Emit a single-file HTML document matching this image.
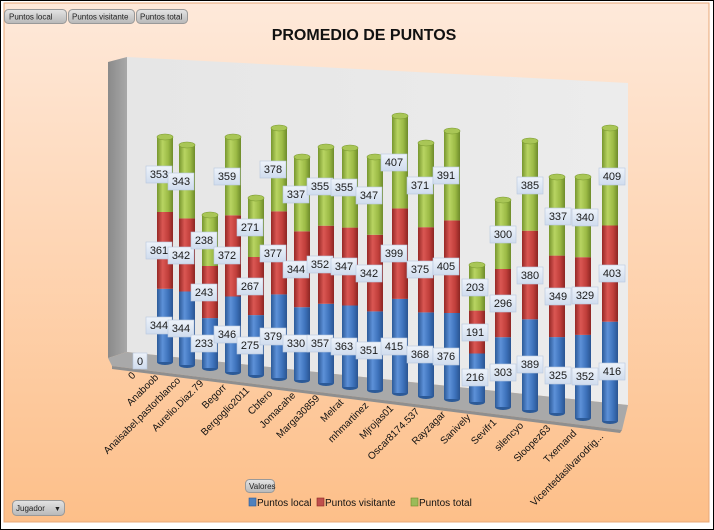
<!DOCTYPE html>
<html><head><meta charset="utf-8"><style>
body{margin:0;width:714px;height:530px;overflow:hidden;background:#fff;}
svg{display:block;font-family:"Liberation Sans",sans-serif;}
</style></head><body>
<svg width="714" height="530" viewBox="0 0 714 530" xmlns="http://www.w3.org/2000/svg">
<defs>
<linearGradient id="bg" x1="0" y1="0" x2="0" y2="1"><stop offset="0" stop-color="#fee9da"/><stop offset="1" stop-color="#fdbf89"/></linearGradient>
<linearGradient id="wall" x1="0" y1="0" x2="1" y2="0"><stop offset="0" stop-color="#e6e6e6"/><stop offset="1" stop-color="#ececec"/></linearGradient>
<linearGradient id="side" x1="0" y1="0" x2="1" y2="0"><stop offset="0" stop-color="#8a8a8a"/><stop offset="1" stop-color="#a8a8a8"/></linearGradient>
<linearGradient id="gb" x1="0" y1="0" x2="1" y2="0"><stop offset="0" stop-color="#2c5a98"/><stop offset=".35" stop-color="#5d91d8"/><stop offset=".7" stop-color="#3d72bb"/><stop offset="1" stop-color="#2a5491"/></linearGradient>
<linearGradient id="gr" x1="0" y1="0" x2="1" y2="0"><stop offset="0" stop-color="#962825"/><stop offset=".35" stop-color="#da5753"/><stop offset=".7" stop-color="#c13f3b"/><stop offset="1" stop-color="#8c2522"/></linearGradient>
<linearGradient id="gg" x1="0" y1="0" x2="1" y2="0"><stop offset="0" stop-color="#77962e"/><stop offset=".35" stop-color="#b8d462"/><stop offset=".7" stop-color="#9cbb46"/><stop offset="1" stop-color="#6e8b2a"/></linearGradient>
<linearGradient id="btn" x1="0" y1="0" x2="0" y2="1"><stop offset="0" stop-color="#e4e4e4"/><stop offset="1" stop-color="#b8b8b8"/></linearGradient>
<linearGradient id="lbl" x1="0" y1="0" x2="0" y2="1"><stop offset="0" stop-color="#eef3fa"/><stop offset="1" stop-color="#cfdcee"/></linearGradient>
</defs>
<rect x="0.5" y="0.5" width="713" height="529" fill="#fff" stroke="#000"/>
<rect x="4" y="3" width="705" height="519" fill="url(#bg)" stroke="#e8a878"/>
<g font-size="8" fill="#222">
<rect x="4.5" y="9.5" width="62" height="14" rx="4" fill="url(#btn)" stroke="#999"/><text x="9" y="19.5">Puntos local</text>
<rect x="68.5" y="9.5" width="66" height="14" rx="4" fill="url(#btn)" stroke="#999"/><text x="72" y="19.5">Puntos visitante</text>
<rect x="136.5" y="9.5" width="51" height="14" rx="4" fill="url(#btn)" stroke="#999"/><text x="140" y="19.5">Puntos total</text>
<rect x="245.5" y="479.5" width="29" height="13" rx="4" fill="url(#btn)" stroke="#999"/><text x="249" y="489">Valores</text>
<rect x="12.5" y="500.5" width="52" height="15" rx="4" fill="url(#btn)" stroke="#999"/><text x="16" y="511">Jugador</text><text x="54" y="511" font-size="7">▼</text>
</g>
<text x="364" y="40" font-size="16" font-weight="bold" text-anchor="middle" fill="#111">PROMEDIO DE PUNTOS</text>
<polygon points="108,62 127,57 127,352 108,358" fill="url(#side)"/>
<polygon points="127,57 628,83 628,405 127,352" fill="url(#wall)"/>
<polygon points="108,358 127,352 628,405 622,430 112,366" fill="#a9a9a9"/>
<polygon points="112,366 622,430 620,433 112,369" fill="#8f8f8f"/>
<g id="bars">
<g transform="translate(165,0)"><ellipse cx="0" cy="362" rx="8" ry="3" fill="#2c5a98"/><rect x="-8" y="288.8" width="16" height="73.2" fill="url(#gb)"/><rect x="-8" y="212" width="16" height="76.8" fill="url(#gr)"/><rect x="-8" y="137" width="16" height="75" fill="url(#gg)"/><ellipse cx="0" cy="137" rx="8" ry="3" fill="#a9c656" stroke="#7a9a30" stroke-width=".6"/></g>
<g transform="translate(187,0)"><ellipse cx="0" cy="365" rx="8" ry="3" fill="#2c5a98"/><rect x="-8" y="291.5" width="16" height="73.5" fill="url(#gb)"/><rect x="-8" y="218.4" width="16" height="73.1" fill="url(#gr)"/><rect x="-8" y="145" width="16" height="73.4" fill="url(#gg)"/><ellipse cx="0" cy="145" rx="8" ry="3" fill="#a9c656" stroke="#7a9a30" stroke-width=".6"/></g>
<g transform="translate(210,0)"><ellipse cx="0" cy="368" rx="8" ry="3" fill="#2c5a98"/><rect x="-8" y="318.1" width="16" height="49.9" fill="url(#gb)"/><rect x="-8" y="266" width="16" height="52.1" fill="url(#gr)"/><rect x="-8" y="215" width="16" height="51" fill="url(#gg)"/><ellipse cx="0" cy="215" rx="8" ry="3" fill="#a9c656" stroke="#7a9a30" stroke-width=".6"/></g>
<g transform="translate(233,0)"><ellipse cx="0" cy="372" rx="8" ry="3" fill="#2c5a98"/><rect x="-8" y="296.5" width="16" height="75.5" fill="url(#gb)"/><rect x="-8" y="215.3" width="16" height="81.2" fill="url(#gr)"/><rect x="-8" y="137" width="16" height="78.3" fill="url(#gg)"/><ellipse cx="0" cy="137" rx="8" ry="3" fill="#a9c656" stroke="#7a9a30" stroke-width=".6"/></g>
<g transform="translate(256,0)"><ellipse cx="0" cy="375" rx="8" ry="3" fill="#2c5a98"/><rect x="-8" y="315.1" width="16" height="59.9" fill="url(#gb)"/><rect x="-8" y="257" width="16" height="58.1" fill="url(#gr)"/><rect x="-8" y="198" width="16" height="59" fill="url(#gg)"/><ellipse cx="0" cy="198" rx="8" ry="3" fill="#a9c656" stroke="#7a9a30" stroke-width=".6"/></g>
<g transform="translate(279,0)"><ellipse cx="0" cy="378" rx="8" ry="3" fill="#2c5a98"/><rect x="-8" y="294.4" width="16" height="83.6" fill="url(#gb)"/><rect x="-8" y="211.3" width="16" height="83.1" fill="url(#gr)"/><rect x="-8" y="128" width="16" height="83.3" fill="url(#gg)"/><ellipse cx="0" cy="128" rx="8" ry="3" fill="#a9c656" stroke="#7a9a30" stroke-width=".6"/></g>
<g transform="translate(302,0)"><ellipse cx="0" cy="380" rx="8" ry="3" fill="#2c5a98"/><rect x="-8" y="307.2" width="16" height="72.8" fill="url(#gb)"/><rect x="-8" y="231.3" width="16" height="75.9" fill="url(#gr)"/><rect x="-8" y="157" width="16" height="74.3" fill="url(#gg)"/><ellipse cx="0" cy="157" rx="8" ry="3" fill="#a9c656" stroke="#7a9a30" stroke-width=".6"/></g>
<g transform="translate(326,0)"><ellipse cx="0" cy="383" rx="8" ry="3" fill="#2c5a98"/><rect x="-8" y="303.8" width="16" height="79.2" fill="url(#gb)"/><rect x="-8" y="225.7" width="16" height="78.1" fill="url(#gr)"/><rect x="-8" y="147" width="16" height="78.7" fill="url(#gg)"/><ellipse cx="0" cy="147" rx="8" ry="3" fill="#a9c656" stroke="#7a9a30" stroke-width=".6"/></g>
<g transform="translate(350,0)"><ellipse cx="0" cy="387" rx="8" ry="3" fill="#2c5a98"/><rect x="-8" y="305.5" width="16" height="81.5" fill="url(#gb)"/><rect x="-8" y="227.6" width="16" height="77.9" fill="url(#gr)"/><rect x="-8" y="148" width="16" height="79.6" fill="url(#gg)"/><ellipse cx="0" cy="148" rx="8" ry="3" fill="#a9c656" stroke="#7a9a30" stroke-width=".6"/></g>
<g transform="translate(375,0)"><ellipse cx="0" cy="390" rx="8" ry="3" fill="#2c5a98"/><rect x="-8" y="311.4" width="16" height="78.6" fill="url(#gb)"/><rect x="-8" y="234.8" width="16" height="76.6" fill="url(#gr)"/><rect x="-8" y="157" width="16" height="77.8" fill="url(#gg)"/><ellipse cx="0" cy="157" rx="8" ry="3" fill="#a9c656" stroke="#7a9a30" stroke-width=".6"/></g>
<g transform="translate(400,0)"><ellipse cx="0" cy="393" rx="8" ry="3" fill="#2c5a98"/><rect x="-8" y="298.9" width="16" height="94.1" fill="url(#gb)"/><rect x="-8" y="208.4" width="16" height="90.5" fill="url(#gr)"/><rect x="-8" y="116" width="16" height="92.4" fill="url(#gg)"/><ellipse cx="0" cy="116" rx="8" ry="3" fill="#a9c656" stroke="#7a9a30" stroke-width=".6"/></g>
<g transform="translate(426,0)"><ellipse cx="0" cy="396" rx="8" ry="3" fill="#2c5a98"/><rect x="-8" y="312.4" width="16" height="83.6" fill="url(#gb)"/><rect x="-8" y="227.2" width="16" height="85.2" fill="url(#gr)"/><rect x="-8" y="143" width="16" height="84.2" fill="url(#gg)"/><ellipse cx="0" cy="143" rx="8" ry="3" fill="#a9c656" stroke="#7a9a30" stroke-width=".6"/></g>
<g transform="translate(452,0)"><ellipse cx="0" cy="399" rx="8" ry="3" fill="#2c5a98"/><rect x="-8" y="313" width="16" height="86" fill="url(#gb)"/><rect x="-8" y="220.4" width="16" height="92.6" fill="url(#gr)"/><rect x="-8" y="131" width="16" height="89.4" fill="url(#gg)"/><ellipse cx="0" cy="131" rx="8" ry="3" fill="#a9c656" stroke="#7a9a30" stroke-width=".6"/></g>
<g transform="translate(477,0)"><ellipse cx="0" cy="402" rx="8" ry="3" fill="#2c5a98"/><rect x="-8" y="353.5" width="16" height="48.5" fill="url(#gb)"/><rect x="-8" y="310.6" width="16" height="42.9" fill="url(#gr)"/><rect x="-8" y="265" width="16" height="45.6" fill="url(#gg)"/><ellipse cx="0" cy="265" rx="8" ry="3" fill="#a9c656" stroke="#7a9a30" stroke-width=".6"/></g>
<g transform="translate(503,0)"><ellipse cx="0" cy="407" rx="8" ry="3" fill="#2c5a98"/><rect x="-8" y="337.2" width="16" height="69.8" fill="url(#gb)"/><rect x="-8" y="269" width="16" height="68.2" fill="url(#gr)"/><rect x="-8" y="200" width="16" height="69" fill="url(#gg)"/><ellipse cx="0" cy="200" rx="8" ry="3" fill="#a9c656" stroke="#7a9a30" stroke-width=".6"/></g>
<g transform="translate(530,0)"><ellipse cx="0" cy="410" rx="8" ry="3" fill="#2c5a98"/><rect x="-8" y="319.3" width="16" height="90.7" fill="url(#gb)"/><rect x="-8" y="230.7" width="16" height="88.6" fill="url(#gr)"/><rect x="-8" y="141" width="16" height="89.7" fill="url(#gg)"/><ellipse cx="0" cy="141" rx="8" ry="3" fill="#a9c656" stroke="#7a9a30" stroke-width=".6"/></g>
<g transform="translate(557,0)"><ellipse cx="0" cy="413" rx="8" ry="3" fill="#2c5a98"/><rect x="-8" y="337.1" width="16" height="75.9" fill="url(#gb)"/><rect x="-8" y="255.6" width="16" height="81.5" fill="url(#gr)"/><rect x="-8" y="177" width="16" height="78.6" fill="url(#gg)"/><ellipse cx="0" cy="177" rx="8" ry="3" fill="#a9c656" stroke="#7a9a30" stroke-width=".6"/></g>
<g transform="translate(583,0)"><ellipse cx="0" cy="418" rx="8" ry="3" fill="#2c5a98"/><rect x="-8" y="334.9" width="16" height="83.1" fill="url(#gb)"/><rect x="-8" y="257.2" width="16" height="77.7" fill="url(#gr)"/><rect x="-8" y="177" width="16" height="80.2" fill="url(#gg)"/><ellipse cx="0" cy="177" rx="8" ry="3" fill="#a9c656" stroke="#7a9a30" stroke-width=".6"/></g>
<g transform="translate(610,0)"><ellipse cx="0" cy="421" rx="8" ry="3" fill="#2c5a98"/><rect x="-8" y="321.7" width="16" height="99.3" fill="url(#gb)"/><rect x="-8" y="225.5" width="16" height="96.2" fill="url(#gr)"/><rect x="-8" y="128" width="16" height="97.5" fill="url(#gg)"/><ellipse cx="0" cy="128" rx="8" ry="3" fill="#a9c656" stroke="#7a9a30" stroke-width=".6"/></g>
</g>
<g font-size="11" fill="#1a1a1a" text-anchor="middle">
<g fill="url(#lbl)" stroke="#b7c7de" stroke-width=".6">
<rect x="133" y="353" width="14" height="16"/>
<rect x="146" y="317" width="26" height="17"/><rect x="146" y="242" width="26" height="17"/><rect x="146" y="166" width="26" height="17"/>
<rect x="168" y="320" width="26" height="17"/><rect x="168" y="247" width="26" height="17"/><rect x="168" y="173" width="26" height="17"/>
<rect x="191" y="335" width="26" height="17"/><rect x="191" y="284" width="26" height="17"/><rect x="191" y="232" width="26" height="17"/>
<rect x="214" y="326" width="26" height="17"/><rect x="214" y="247" width="26" height="17"/><rect x="214" y="168" width="26" height="17"/>
<rect x="237" y="337" width="26" height="17"/><rect x="237" y="278" width="26" height="17"/><rect x="237" y="219" width="26" height="17"/>
<rect x="260" y="328" width="26" height="17"/><rect x="260" y="245" width="26" height="17"/><rect x="260" y="161" width="26" height="17"/>
<rect x="283" y="335" width="26" height="17"/><rect x="283" y="261" width="26" height="17"/><rect x="283" y="186" width="26" height="17"/>
<rect x="307" y="335" width="26" height="17"/><rect x="307" y="256" width="26" height="17"/><rect x="307" y="178" width="26" height="17"/>
<rect x="331" y="338" width="26" height="17"/><rect x="331" y="258" width="26" height="17"/><rect x="331" y="179" width="26" height="17"/>
<rect x="356" y="342" width="26" height="17"/><rect x="356" y="265" width="26" height="17"/><rect x="356" y="187" width="26" height="17"/>
<rect x="381" y="338" width="26" height="17"/><rect x="381" y="245" width="26" height="17"/><rect x="381" y="154" width="26" height="17"/>
<rect x="407" y="346" width="26" height="17"/><rect x="407" y="261" width="26" height="17"/><rect x="407" y="177" width="26" height="17"/>
<rect x="433" y="348" width="26" height="17"/><rect x="433" y="258" width="26" height="17"/><rect x="433" y="167" width="26" height="17"/>
<rect x="462" y="369" width="26" height="17"/><rect x="462" y="324" width="26" height="17"/><rect x="462" y="279" width="26" height="17"/>
<rect x="490" y="364" width="26" height="17"/><rect x="490" y="295" width="26" height="17"/><rect x="490" y="226" width="26" height="17"/>
<rect x="517" y="356" width="26" height="17"/><rect x="517" y="267" width="26" height="17"/><rect x="517" y="177" width="26" height="17"/>
<rect x="545" y="367" width="26" height="17"/><rect x="545" y="288" width="26" height="17"/><rect x="545" y="208" width="26" height="17"/>
<rect x="572" y="368" width="26" height="17"/><rect x="572" y="287" width="26" height="17"/><rect x="572" y="209" width="26" height="17"/>
<rect x="599" y="363" width="26" height="17"/><rect x="599" y="265" width="26" height="17"/><rect x="599" y="168" width="26" height="17"/>
</g>
<text x="140" y="365">0</text>
<text x="159" y="329">344</text><text x="159" y="254">361</text><text x="159" y="178">353</text>
<text x="181" y="332">344</text><text x="181" y="259">342</text><text x="181" y="185">343</text>
<text x="204" y="347">233</text><text x="204" y="296">243</text><text x="204" y="244">238</text>
<text x="227" y="338">346</text><text x="227" y="259">372</text><text x="227" y="180">359</text>
<text x="250" y="349">275</text><text x="250" y="290">267</text><text x="250" y="231">271</text>
<text x="273" y="340">379</text><text x="273" y="257">377</text><text x="273" y="173">378</text>
<text x="296" y="347">330</text><text x="296" y="273">344</text><text x="296" y="198">337</text>
<text x="320" y="347">357</text><text x="320" y="268">352</text><text x="320" y="190">355</text>
<text x="344" y="350">363</text><text x="344" y="270">347</text><text x="344" y="191">355</text>
<text x="369" y="354">351</text><text x="369" y="277">342</text><text x="369" y="199">347</text>
<text x="394" y="350">415</text><text x="394" y="257">399</text><text x="394" y="166">407</text>
<text x="420" y="358">368</text><text x="420" y="273">375</text><text x="420" y="189">371</text>
<text x="446" y="360">376</text><text x="446" y="270">405</text><text x="446" y="179">391</text>
<text x="475" y="381">216</text><text x="475" y="336">191</text><text x="475" y="291">203</text>
<text x="503" y="376">303</text><text x="503" y="307">296</text><text x="503" y="238">300</text>
<text x="530" y="368">389</text><text x="530" y="279">380</text><text x="530" y="189">385</text>
<text x="558" y="379">325</text><text x="558" y="300">349</text><text x="558" y="220">337</text>
<text x="585" y="380">352</text><text x="585" y="299">329</text><text x="585" y="221">340</text>
<text x="612" y="375">416</text><text x="612" y="277">403</text><text x="612" y="180">409</text>
</g>
<g font-size="10" fill="#111" text-anchor="end">
<text transform="translate(136,376) rotate(-45)">0</text>
<text transform="translate(159,378) rotate(-45)">Anaboob</text>
<text transform="translate(181,381) rotate(-45)">Anaisabel.pastorblanco</text>
<text transform="translate(204,384) rotate(-45)">Aurelio.Diaz.79</text>
<text transform="translate(227,388) rotate(-45)">Begorr</text>
<text transform="translate(250,391) rotate(-45)">Bergoglio2011</text>
<text transform="translate(273,394) rotate(-45)">Cbfero</text>
<text transform="translate(296,396) rotate(-45)">Jomacahe</text>
<text transform="translate(320,399) rotate(-45)">Marga30859</text>
<text transform="translate(344,403) rotate(-45)">Melrat</text>
<text transform="translate(369,406) rotate(-45)">mhmartinez</text>
<text transform="translate(394,409) rotate(-45)">Mjrojas01</text>
<text transform="translate(420,412) rotate(-45)">Oscar8174.537</text>
<text transform="translate(446,415) rotate(-45)">Rayzagar</text>
<text transform="translate(471,418) rotate(-45)">Sanively</text>
<text transform="translate(497,423) rotate(-45)">Sevifr1</text>
<text transform="translate(524,426) rotate(-45)">silencyo</text>
<text transform="translate(551,429) rotate(-45)">Sloopez63</text>
<text transform="translate(577,434) rotate(-45)">Txemand</text>
<text transform="translate(604,437) rotate(-45)">Vicentedasilvarodrig...</text>
</g>
<g font-size="10" fill="#111">
<rect x="249" y="498" width="7" height="8" fill="#4f81bd" stroke="#2c5a98" stroke-width=".6"/><text x="257" y="506">Puntos local</text>
<rect x="317" y="498" width="7" height="8" fill="#c0504d" stroke="#8c2522" stroke-width=".6"/><text x="325" y="506">Puntos visitante</text>
<rect x="411" y="498" width="7" height="8" fill="#9bbb59" stroke="#6e8b2a" stroke-width=".6"/><text x="419" y="506">Puntos total</text>
</g>
</svg>
</body></html>
